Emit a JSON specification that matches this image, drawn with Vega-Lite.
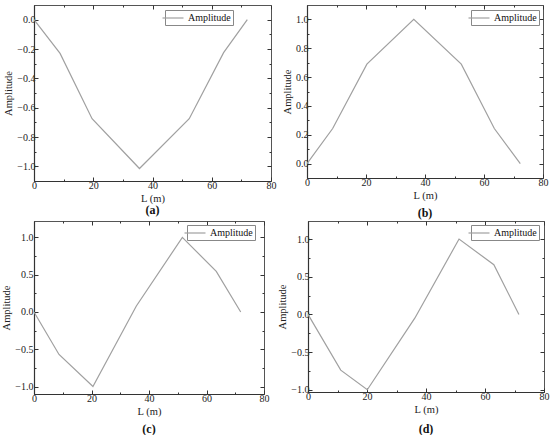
{
  "$schema": "https://vega.github.io/schema/vega-lite/v6.json",
  "padding": {"left": 1, "top": 4, "right": 0, "bottom": 0},
  "background": "white",
  "datasets": {
    "a": [{"L":0,"Amplitude":0},{"L":8.8,"Amplitude":-0.23},{"L":19.6,"Amplitude":-0.675},{"L":35.6,"Amplitude":-1.015},{"L":52.4,"Amplitude":-0.675},{"L":64,"Amplitude":-0.225},{"L":72,"Amplitude":0}],
    "b": [{"L":0,"Amplitude":0},{"L":8.7,"Amplitude":0.243},{"L":20.3,"Amplitude":0.69},{"L":36.2,"Amplitude":1.0},{"L":52.3,"Amplitude":0.69},{"L":63.5,"Amplitude":0.243},{"L":72.3,"Amplitude":0}],
    "c": [{"L":0,"Amplitude":0},{"L":8.7,"Amplitude":-0.57},{"L":20.5,"Amplitude":-1.0},{"L":35.6,"Amplitude":0.08},{"L":51.6,"Amplitude":1.0},{"L":63.4,"Amplitude":0.545},{"L":71.9,"Amplitude":0}],
    "d": [{"L":0,"Amplitude":0},{"L":11.1,"Amplitude":-0.74},{"L":20.1,"Amplitude":-1.0},{"L":36.2,"Amplitude":-0.05},{"L":51.2,"Amplitude":1.0},{"L":63,"Amplitude":0.66},{"L":71.5,"Amplitude":0}]
  },
  "spacing": 1,
  "resolve": {"scale": {"color": "independent"}},
  "vconcat": [
    {
      "spacing": 5,
      "resolve": {"scale": {"color": "independent"}},
      "hconcat": [
        {
          "width": 237, "height": 176,
          "title": {"text": "(a)", "orient": "bottom", "offset": 1},
          "data": {"name": "a"},
          "resolve": {"axis": {"x": "independent", "y": "independent"}},
          "layer": [
            {"mark": {"type": "line", "strokeWidth": 1.2},
             "encoding": {
               "x": {"field": "L", "type": "quantitative", "scale": {"domain": [0, 80], "nice": false}, "axis": {"orient": "bottom", "values": [0, 20, 40, 60, 80], "title": "L (m)"}},
               "y": {"field": "Amplitude", "type": "quantitative", "scale": {"domain": [-1.1, 0.1], "nice": false, "zero": false}, "axis": {"orient": "left", "values": [-1, -0.8, -0.6, -0.4, -0.2, 0], "format": ".1f", "title": "Amplitude"}},
               "color": {"datum": "Amplitude", "scale": {"range": ["#a0a0a0"]}, "legend": {"title": null, "orient": "none", "legendX": 131, "legendY": 5}}
             }},
            {"mark": {"type": "line", "opacity": 0},
             "encoding": {
               "x": {"field": "L", "type": "quantitative", "scale": {"domain": [0, 80], "nice": false}, "axis": {"orient": "top", "values": [0, 20, 40, 60, 80], "labels": false, "title": null, "domain": false}},
               "y": {"field": "Amplitude", "type": "quantitative", "scale": {"domain": [-1.1, 0.1], "nice": false, "zero": false}, "axis": {"orient": "right", "values": [-1, -0.8, -0.6, -0.4, -0.2, 0], "labels": false, "title": null, "domain": false}}
             }},
            {"mark": {"type": "line", "opacity": 0},
             "encoding": {
               "x": {"field": "L", "type": "quantitative", "scale": {"domain": [0, 80], "nice": false}, "axis": {"orient": "bottom", "values": [10, 30, 50, 70], "labels": false, "title": null, "domain": false, "tickSize": -2}},
               "y": {"field": "Amplitude", "type": "quantitative", "scale": {"domain": [-1.1, 0.1], "nice": false, "zero": false}, "axis": {"orient": "left", "values": [-0.9, -0.7, -0.5, -0.3, -0.1], "labels": false, "title": null, "domain": false, "tickSize": -2}}
             }},
            {"mark": {"type": "line", "opacity": 0},
             "encoding": {
               "x": {"field": "L", "type": "quantitative", "scale": {"domain": [0, 80], "nice": false}, "axis": {"orient": "top", "values": [10, 30, 50, 70], "labels": false, "title": null, "domain": false, "tickSize": -2}},
               "y": {"field": "Amplitude", "type": "quantitative", "scale": {"domain": [-1.1, 0.1], "nice": false, "zero": false}, "axis": {"orient": "right", "values": [-0.9, -0.7, -0.5, -0.3, -0.1], "labels": false, "title": null, "domain": false, "tickSize": -2}}
             }}
          ]
        },
        {
          "width": 236, "height": 173,
          "title": {"text": "(b)", "orient": "bottom", "offset": 7},
          "data": {"name": "b"},
          "resolve": {"axis": {"x": "independent", "y": "independent"}},
          "layer": [
            {"mark": {"type": "line", "strokeWidth": 1.2},
             "encoding": {
               "x": {"field": "L", "type": "quantitative", "scale": {"domain": [0, 80], "nice": false}, "axis": {"orient": "bottom", "values": [0, 20, 40, 60, 80], "title": "L (m)"}},
               "y": {"field": "Amplitude", "type": "quantitative", "scale": {"domain": [-0.1, 1.1], "nice": false, "zero": false}, "axis": {"orient": "left", "values": [0, 0.2, 0.4, 0.6, 0.8, 1], "format": ".1f", "title": "Amplitude"}},
               "color": {"datum": "Amplitude", "scale": {"range": ["#a0a0a0"]}, "legend": {"title": null, "orient": "none", "legendX": 164, "legendY": 5}}
             }},
            {"mark": {"type": "line", "opacity": 0},
             "encoding": {
               "x": {"field": "L", "type": "quantitative", "scale": {"domain": [0, 80], "nice": false}, "axis": {"orient": "top", "values": [0, 20, 40, 60, 80], "labels": false, "title": null, "domain": false}},
               "y": {"field": "Amplitude", "type": "quantitative", "scale": {"domain": [-0.1, 1.1], "nice": false, "zero": false}, "axis": {"orient": "right", "values": [0, 0.2, 0.4, 0.6, 0.8, 1], "labels": false, "title": null, "domain": false}}
             }},
            {"mark": {"type": "line", "opacity": 0},
             "encoding": {
               "x": {"field": "L", "type": "quantitative", "scale": {"domain": [0, 80], "nice": false}, "axis": {"orient": "bottom", "values": [10, 30, 50, 70], "labels": false, "title": null, "domain": false, "tickSize": -2}},
               "y": {"field": "Amplitude", "type": "quantitative", "scale": {"domain": [-0.1, 1.1], "nice": false, "zero": false}, "axis": {"orient": "left", "values": [0.1, 0.3, 0.5, 0.7, 0.9], "labels": false, "title": null, "domain": false, "tickSize": -2}}
             }},
            {"mark": {"type": "line", "opacity": 0},
             "encoding": {
               "x": {"field": "L", "type": "quantitative", "scale": {"domain": [0, 80], "nice": false}, "axis": {"orient": "top", "values": [10, 30, 50, 70], "labels": false, "title": null, "domain": false, "tickSize": -2}},
               "y": {"field": "Amplitude", "type": "quantitative", "scale": {"domain": [-0.1, 1.1], "nice": false, "zero": false}, "axis": {"orient": "right", "values": [0.1, 0.3, 0.5, 0.7, 0.9], "labels": false, "title": null, "domain": false, "tickSize": -2}}
             }}
          ]
        }
      ]
    },
    {
      "spacing": 7,
      "resolve": {"scale": {"color": "independent"}},
      "hconcat": [
        {
          "width": 230, "height": 173,
          "title": {"text": "(c)", "orient": "bottom", "offset": 7},
          "data": {"name": "c"},
          "resolve": {"axis": {"x": "independent", "y": "independent"}},
          "layer": [
            {"mark": {"type": "line", "strokeWidth": 1.2},
             "encoding": {
               "x": {"field": "L", "type": "quantitative", "scale": {"domain": [0, 80], "nice": false}, "axis": {"orient": "bottom", "values": [0, 20, 40, 60, 80], "title": "L (m)"}},
               "y": {"field": "Amplitude", "type": "quantitative", "scale": {"domain": [-1.1, 1.22], "nice": false, "zero": false}, "axis": {"orient": "left", "values": [-1, -0.5, 0, 0.5, 1], "format": ".1f", "title": "Amplitude", "labelPadding": 5}},
               "color": {"datum": "Amplitude", "scale": {"range": ["#a0a0a0"]}, "legend": {"title": null, "orient": "none", "legendX": 153, "legendY": 4}}
             }},
            {"mark": {"type": "line", "opacity": 0},
             "encoding": {
               "x": {"field": "L", "type": "quantitative", "scale": {"domain": [0, 80], "nice": false}, "axis": {"orient": "top", "values": [0, 20, 40, 60, 80], "labels": false, "title": null, "domain": false}},
               "y": {"field": "Amplitude", "type": "quantitative", "scale": {"domain": [-1.1, 1.22], "nice": false, "zero": false}, "axis": {"orient": "right", "values": [-1, -0.5, 0, 0.5, 1], "labels": false, "title": null, "domain": false}}
             }},
            {"mark": {"type": "line", "opacity": 0},
             "encoding": {
               "x": {"field": "L", "type": "quantitative", "scale": {"domain": [0, 80], "nice": false}, "axis": {"orient": "bottom", "values": [10, 30, 50, 70], "labels": false, "title": null, "domain": false, "tickSize": -2}},
               "y": {"field": "Amplitude", "type": "quantitative", "scale": {"domain": [-1.1, 1.22], "nice": false, "zero": false}, "axis": {"orient": "left", "values": [-0.75, -0.25, 0.25, 0.75], "labels": false, "title": null, "domain": false, "tickSize": -2}}
             }},
            {"mark": {"type": "line", "opacity": 0},
             "encoding": {
               "x": {"field": "L", "type": "quantitative", "scale": {"domain": [0, 80], "nice": false}, "axis": {"orient": "top", "values": [10, 30, 50, 70], "labels": false, "title": null, "domain": false, "tickSize": -2}},
               "y": {"field": "Amplitude", "type": "quantitative", "scale": {"domain": [-1.1, 1.22], "nice": false, "zero": false}, "axis": {"orient": "right", "values": [-0.75, -0.25, 0.25, 0.75], "labels": false, "title": null, "domain": false, "tickSize": -2}}
             }}
          ]
        },
        {
          "width": 236, "height": 171,
          "title": {"text": "(d)", "orient": "bottom", "offset": 9},
          "data": {"name": "d"},
          "resolve": {"axis": {"x": "independent", "y": "independent"}},
          "layer": [
            {"mark": {"type": "line", "strokeWidth": 1.2},
             "encoding": {
               "x": {"field": "L", "type": "quantitative", "scale": {"domain": [0, 80], "nice": false}, "axis": {"orient": "bottom", "values": [0, 20, 40, 60, 80], "title": "L (m)"}},
               "y": {"field": "Amplitude", "type": "quantitative", "scale": {"domain": [-1.03, 1.24], "nice": false, "zero": false}, "axis": {"orient": "left", "values": [-1, -0.5, 0, 0.5, 1], "format": ".1f", "title": "Amplitude"}},
               "color": {"datum": "Amplitude", "scale": {"range": ["#a0a0a0"]}, "legend": {"title": null, "orient": "none", "legendX": 163, "legendY": 4}}
             }},
            {"mark": {"type": "line", "opacity": 0},
             "encoding": {
               "x": {"field": "L", "type": "quantitative", "scale": {"domain": [0, 80], "nice": false}, "axis": {"orient": "top", "values": [0, 20, 40, 60, 80], "labels": false, "title": null, "domain": false}},
               "y": {"field": "Amplitude", "type": "quantitative", "scale": {"domain": [-1.03, 1.24], "nice": false, "zero": false}, "axis": {"orient": "right", "values": [-1, -0.5, 0, 0.5, 1], "labels": false, "title": null, "domain": false}}
             }},
            {"mark": {"type": "line", "opacity": 0},
             "encoding": {
               "x": {"field": "L", "type": "quantitative", "scale": {"domain": [0, 80], "nice": false}, "axis": {"orient": "bottom", "values": [10, 30, 50, 70], "labels": false, "title": null, "domain": false, "tickSize": -2}},
               "y": {"field": "Amplitude", "type": "quantitative", "scale": {"domain": [-1.03, 1.24], "nice": false, "zero": false}, "axis": {"orient": "left", "values": [-0.75, -0.25, 0.25, 0.75], "labels": false, "title": null, "domain": false, "tickSize": -2}}
             }},
            {"mark": {"type": "line", "opacity": 0},
             "encoding": {
               "x": {"field": "L", "type": "quantitative", "scale": {"domain": [0, 80], "nice": false}, "axis": {"orient": "top", "values": [10, 30, 50, 70], "labels": false, "title": null, "domain": false, "tickSize": -2}},
               "y": {"field": "Amplitude", "type": "quantitative", "scale": {"domain": [-1.03, 1.24], "nice": false, "zero": false}, "axis": {"orient": "right", "values": [-0.75, -0.25, 0.25, 0.75], "labels": false, "title": null, "domain": false, "tickSize": -2}}
             }}
          ]
        }
      ]
    }
  ],
  "config": {
    "font": "Liberation Serif",
    "view": {"stroke": "#555", "strokeWidth": 1},
    "axis": {
      "grid": false,
      "labelFont": "Liberation Serif", "labelFontSize": 10, "labelColor": "#222", "labelFlush": false, "labelPadding": 3,
      "titleFont": "Liberation Serif", "titleFontSize": 10.5, "titleFontWeight": "normal", "titleColor": "#222", "titlePadding": 3,
      "tickSize": -4, "tickColor": "#333", "tickWidth": 1,
      "domainColor": "#333", "domainWidth": 1.2
    },
    "legend": {
      "labelFont": "Liberation Serif", "labelFontSize": 10, "labelColor": "#111",
      "strokeColor": "#888", "fillColor": "#ffffff", "padding": 2, "cornerRadius": 0,
      "symbolType": "M-2,0H2", "symbolSize": 110, "symbolStrokeWidth": 1.2, "labelOffset": 9
    },
    "title": {"font": "Liberation Serif", "fontSize": 12, "fontWeight": "bold", "color": "#111", "anchor": "middle"}
  }
}
